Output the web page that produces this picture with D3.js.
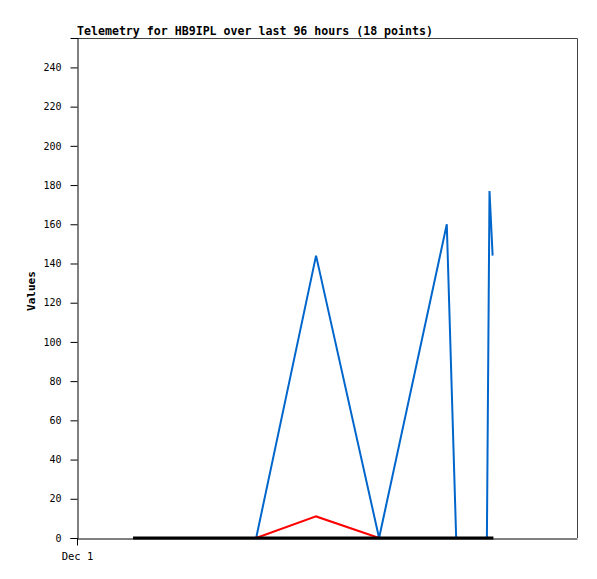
<!DOCTYPE html>
<html>
<head>
<meta charset="utf-8">
<script src="https://cdn.jsdelivr.net/npm/d3@7"></script>
<style>
  body { margin: 0; background: #fff; }
  svg { display: block; }
  text { font-family: "DejaVu Sans Mono", "Liberation Mono", monospace; }
</style>
</head>
<body>
<svg id="chart" width="597" height="579"></svg>
<script>
// Data (hours after Dec 1 00:00)
const times      = [10.75, 34.4, 45.9, 58.0, 71.0, 72.8, 78.7, 79.2, 79.8];
const blueValues = [0, 0, 144, 0, 160, 0, 0, 177, 144];
const redValues  = [0, 0, 11, 0, 0, 0, 0, 0, 0];
const blackTimes  = [10.75, 34.4, 45.9, 58.0, 71.0, 72.8, 78.7, 79.2, 79.95];
const blackValues = [0, 0, 0, 0, 0, 0, 0, 0, 0];
const yTicks = [0, 20, 40, 60, 80, 100, 120, 140, 160, 180, 200, 220, 240];
const xTickLabels = ["Dec 1"];
const title = "Telemetry for HB9IPL over last 96 hours (18 points)";
const yLabel = "Values";

const start = new Date(2023, 11, 1, 0, 0, 0);
const toDate = h => new Date(start.getTime() + h * 3600e3);

const margin = {left: 77, top: 38, right: 20, bottom: 41};
const W = 597, H = 579;
const iw = W - margin.left - margin.right;   // 500
const ih = H - margin.top - margin.bottom;   // 500

const svg = d3.select("#chart");
const g = svg.append("g").attr("transform", `translate(${margin.left},${margin.top})`);

const x = d3.scaleTime().domain([start, toDate(96)]).range([0, iw]);
const y = d3.scaleLinear().domain([0, 255]).range([ih, 0]);

// frame (top & right)
g.append("path")
  .attr("d", `M0.5,0.5H${iw + 0.5}V${ih}`)
  .attr("fill", "none").attr("stroke", "#444").attr("stroke-width", 1);

// y axis
const yAxis = g.append("g").attr("transform", "translate(0.5,0)")
  .call(d3.axisLeft(y).tickValues(yTicks).tickSize(7).tickPadding(9));
yAxis.select(".domain").attr("stroke", "#000");
yAxis.selectAll(".tick line").attr("stroke", "#000");
yAxis.selectAll("text").attr("font-size", "10px").attr("fill", "#000");

// x axis
const xAxis = g.append("g").attr("transform", `translate(0,${ih + 0.5})`)
  .call(d3.axisBottom(x).tickValues([start]).tickFormat((d, i) => xTickLabels[i]).tickSize(7).tickPadding(7).tickSizeOuter(0));
xAxis.select(".domain").attr("stroke", "#000");
xAxis.selectAll(".tick line").attr("stroke", "#000");
xAxis.selectAll("text").attr("font-size", "10.5px").attr("fill", "#000");

const line = d3.line().x(d => x(toDate(d[0]))).y(d => y(d[1]));

const blue = times.map((t, i) => [t, blueValues[i]]);
const red = times.map((t, i) => [t, redValues[i]]);
const black = blackTimes.map((t, i) => [t, blackValues[i]]);

g.append("path").datum(blue).attr("d", line)
  .attr("fill", "none").attr("stroke", "#0066cc").attr("stroke-width", 2).attr("stroke-linejoin", "miter");
g.append("path").datum(red).attr("d", line)
  .attr("fill", "none").attr("stroke", "#ff0000").attr("stroke-width", 2);
g.append("path").datum(black).attr("d", line)
  .attr("fill", "none").attr("stroke", "#000").attr("stroke-width", 3);

// title
svg.append("text").attr("x", margin.left).attr("y", 35)
  .attr("font-size", "11.6px").attr("font-weight", "bold").attr("fill", "#000")
  .text(title);

// y label
svg.append("text")
  .attr("transform", `translate(35,${margin.top + ih / 2 + 3}) rotate(-90)`)
  .attr("text-anchor", "middle")
  .attr("font-size", "11px").attr("font-weight", "bold").attr("fill", "#000")
  .text(yLabel);
</script>
</body>
</html>
